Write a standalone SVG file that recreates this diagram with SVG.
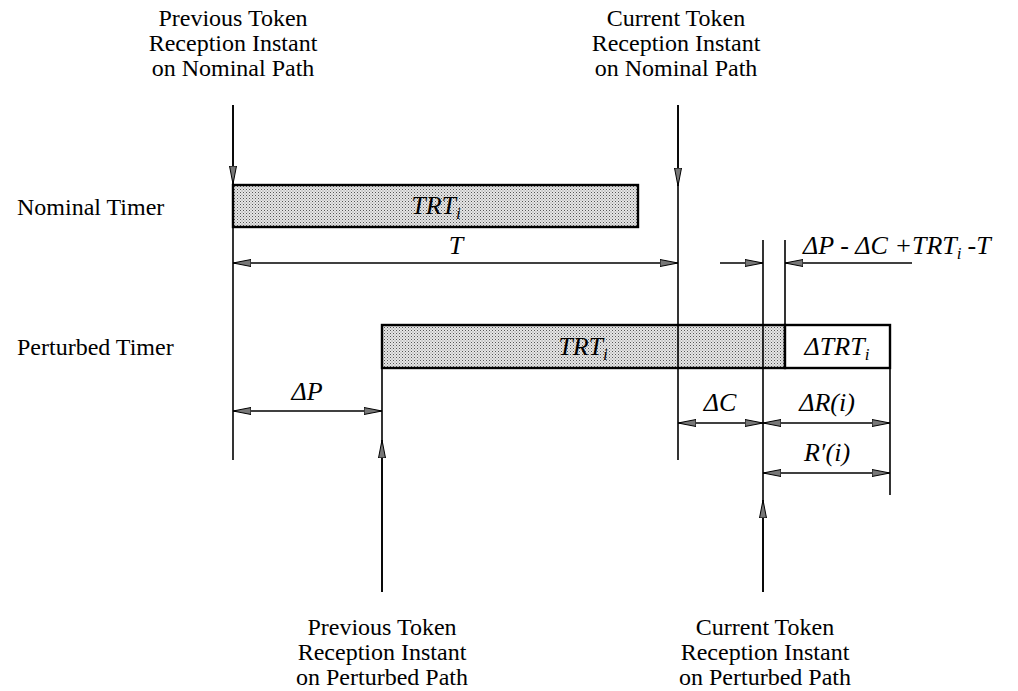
<svg xmlns="http://www.w3.org/2000/svg" width="1018" height="691" viewBox="0 0 1018 691">
<style>
.lbl{font-family:"Liberation Serif","Times New Roman",serif;font-size:24px;fill:#000}
.math{font-family:"Liberation Serif","Times New Roman",serif;font-size:26px;font-style:italic;fill:#000}
.sub{font-size:17px}
.ln{stroke:#000;stroke-width:1.6;fill:none}
.box{stroke:#000;stroke-width:2.4}
</style>
<defs>
<pattern id="dots" width="3" height="3" patternUnits="userSpaceOnUse">
<rect width="3" height="3" fill="#e6e6e6"/>
<rect x="0" y="0" width="1" height="1" fill="#555"/>
<rect x="1.5" y="1.5" width="1" height="1" fill="#888"/>
</pattern>
<marker id="ah" viewBox="0 0 18 8" refX="18" refY="4" markerWidth="18" markerHeight="8" markerUnits="userSpaceOnUse" orient="auto-start-reverse">
<path d="M0,0.5 L18,4 L0,7.5 Z" fill="#777" stroke="#000" stroke-width="1"/>
</marker>
</defs>

<g id="label-top-left">
<text class="lbl" x="233" y="26" text-anchor="middle">Previous Token</text>
<text class="lbl" x="233" y="51" text-anchor="middle">Reception Instant</text>
<text class="lbl" x="233" y="76" text-anchor="middle">on Nominal Path</text>
</g>
<g id="label-top-right">
<text class="lbl" x="676" y="26" text-anchor="middle">Current Token</text>
<text class="lbl" x="676" y="51" text-anchor="middle">Reception Instant</text>
<text class="lbl" x="676" y="76" text-anchor="middle">on Nominal Path</text>
</g>
<g id="label-bottom-left">
<text class="lbl" x="382" y="635" text-anchor="middle">Previous Token</text>
<text class="lbl" x="382" y="660" text-anchor="middle">Reception Instant</text>
<text class="lbl" x="382" y="685" text-anchor="middle">on Perturbed Path</text>
</g>
<g id="label-bottom-right">
<text class="lbl" x="765" y="635" text-anchor="middle">Current Token</text>
<text class="lbl" x="765" y="660" text-anchor="middle">Reception Instant</text>
<text class="lbl" x="765" y="685" text-anchor="middle">on Perturbed Path</text>
</g>
<g id="label-nominal-timer"><text class="lbl" x="17" y="215">Nominal Timer</text></g>
<g id="label-perturbed-timer"><text class="lbl" x="17" y="355">Perturbed Timer</text></g>

<g id="nominal-timer">
<rect class="box" x="233" y="185" width="405" height="42" fill="url(#dots)"/>
<text class="math" x="436" y="214" text-anchor="middle">TRT<tspan class="sub" dy="5">i</tspan></text>
</g>
<g id="perturbed-timer">
<rect class="box" x="382" y="325" width="403" height="43" fill="url(#dots)"/>
<rect class="box" x="785" y="325" width="105" height="43" fill="#fff"/>
<text class="math" x="583" y="355" text-anchor="middle">TRT<tspan class="sub" dy="5">i</tspan></text>
<text class="math" x="837" y="355" text-anchor="middle">ΔTRT<tspan class="sub" dy="5">i</tspan></text>
</g>

<g id="connectors">
<line class="ln" x1="233" y1="105" x2="233" y2="460"/>
<line class="ln" x1="678" y1="105" x2="678" y2="460"/>
<line class="ln" x1="763" y1="240" x2="763" y2="592"/>
<line class="ln" x1="785" y1="240" x2="785" y2="325"/>
<line class="ln" x1="890" y1="368" x2="890" y2="495"/>
<line class="ln" x1="382" y1="368" x2="382" y2="592"/>
<line class="ln" x1="233" y1="105" x2="233" y2="184" marker-end="url(#ah)"/>
<line class="ln" x1="678" y1="105" x2="678" y2="186" marker-end="url(#ah)"/>
<line class="ln" x1="382" y1="592" x2="382" y2="440" marker-end="url(#ah)"/>
<line class="ln" x1="763" y1="592" x2="763" y2="500" marker-end="url(#ah)"/>
<line class="ln" x1="233" y1="263" x2="678" y2="263" marker-start="url(#ah)" marker-end="url(#ah)"/>
<line class="ln" x1="720" y1="263" x2="763" y2="263" marker-end="url(#ah)"/>
<line class="ln" x1="912" y1="263" x2="785" y2="263" marker-end="url(#ah)"/>
<line class="ln" x1="233" y1="411" x2="382" y2="411" marker-start="url(#ah)" marker-end="url(#ah)"/>
<line class="ln" x1="678" y1="423" x2="763" y2="423" marker-start="url(#ah)" marker-end="url(#ah)"/>
<line class="ln" x1="763" y1="423" x2="890" y2="423" marker-start="url(#ah)" marker-end="url(#ah)"/>
<line class="ln" x1="763" y1="473" x2="890" y2="473" marker-start="url(#ah)" marker-end="url(#ah)"/>
</g>

<g id="dimension-labels">
<text class="math" x="456" y="254" text-anchor="middle">T</text>
<text class="math" x="307" y="400" text-anchor="middle">ΔP</text>
<text class="math" x="720" y="411" text-anchor="middle">ΔC</text>
<text class="math" x="827" y="411" text-anchor="middle">ΔR(i)</text>
<text class="math" x="827" y="461" text-anchor="middle">R′(i)</text>
<text class="math" x="803" y="254">ΔP - ΔC +TRT<tspan class="sub" dy="5">i</tspan><tspan dy="-5" dx="6">-T</tspan></text>
</g>
</svg>
